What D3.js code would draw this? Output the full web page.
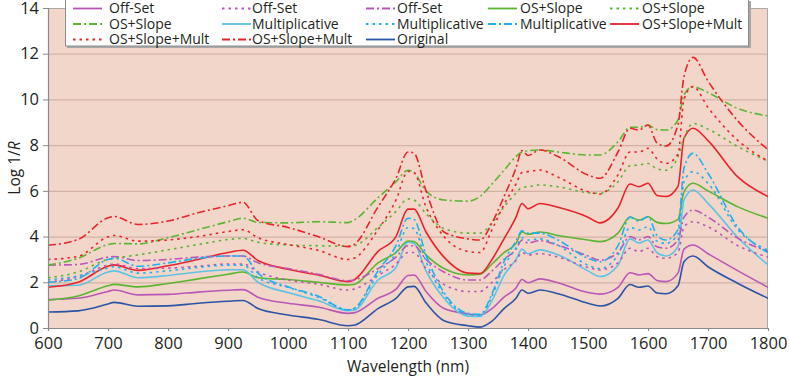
<!DOCTYPE html>
<html><head><meta charset="utf-8">
<script src="https://cdn.jsdelivr.net/npm/d3@7"></script>
<style>body{margin:0;background:#fff;} text{font-family:"Open Sans",sans-serif;}</style>
</head><body><svg id="c" width="790" height="378"></svg>
<script>
const wavelengths = [600,650,700,710,750,800,850,900,925,950,1000,1050,1100,1110,1150,1180,1200,1210,1230,1260,1300,1320,1340,1360,1380,1390,1400,1420,1450,1500,1520,1550,1570,1585,1600,1615,1630,1650,1660,1675,1700,1750,1800];
const xTicks = [600,700,800,900,1000,1100,1200,1300,1400,1500,1600,1700,1800];
const yTicks = [0,2,4,6,8,10,12,14];

const original      = [0.70,0.75,1.05,1.12,0.95,0.97,1.08,1.17,1.20,0.85,0.57,0.38,0.10,0.12,0.85,1.30,1.80,1.82,1.10,0.32,0.10,0.04,0.30,0.85,1.30,1.66,1.52,1.66,1.50,1.08,0.96,1.30,1.90,1.78,1.84,1.53,1.50,1.85,2.90,3.15,2.68,1.95,1.30];
const offSetSolid   = [1.25,1.30,1.60,1.66,1.45,1.47,1.57,1.65,1.68,1.35,1.08,0.92,0.64,0.66,1.30,1.70,2.30,2.32,1.60,0.85,0.62,0.57,0.85,1.35,1.75,2.12,1.98,2.15,1.98,1.55,1.48,1.78,2.42,2.32,2.38,2.08,2.03,2.40,3.45,3.63,3.25,2.50,1.78];
const offSetDot     = [2.00,2.25,2.75,2.80,2.60,2.62,2.70,2.80,2.80,2.45,2.10,1.92,1.66,1.70,2.30,2.80,3.30,3.30,2.60,1.90,1.60,1.60,2.00,2.55,2.95,3.30,3.20,3.25,3.10,2.65,2.54,2.85,3.49,3.34,3.49,3.12,3.05,3.30,4.43,4.65,4.43,3.60,3.10];
const offSetDashDot = [2.75,2.78,3.10,3.13,2.95,3.00,3.10,3.15,3.15,2.85,2.60,2.35,2.07,2.10,2.60,3.10,3.60,3.60,3.00,2.45,2.10,2.10,2.50,3.00,3.45,3.85,3.72,3.82,3.62,3.15,2.97,3.30,4.00,3.85,4.00,3.55,3.49,3.85,4.85,5.16,4.85,3.92,3.35];
const osSlopeSolid  = [1.22,1.40,1.85,1.91,1.80,1.95,2.15,2.35,2.45,2.20,2.12,2.00,1.88,1.90,2.85,3.30,3.80,3.78,3.20,2.60,2.32,2.35,2.80,3.30,3.70,4.20,4.10,4.20,4.05,3.85,3.78,4.15,4.85,4.72,4.87,4.62,4.57,4.75,5.95,6.33,6.00,5.30,4.80];
const osSlopeDot    = [2.20,2.45,3.00,3.05,3.20,3.42,3.65,3.87,3.92,3.75,3.63,3.60,3.58,3.60,4.40,5.10,5.65,5.60,5.00,4.35,4.15,4.15,4.60,5.30,5.90,6.15,6.18,6.26,6.18,5.92,5.89,6.40,7.10,7.13,7.20,6.96,6.90,7.50,8.30,8.95,8.70,7.93,7.30];
const osSlopeDashDot= [2.75,3.05,3.65,3.70,3.68,3.95,4.30,4.65,4.80,4.62,4.60,4.65,4.61,4.72,5.70,6.40,6.90,6.80,6.00,5.60,5.55,5.75,6.30,6.90,7.50,7.70,7.75,7.79,7.70,7.57,7.57,8.15,8.78,8.78,8.88,8.68,8.66,9.10,10.20,10.56,10.30,9.60,9.28];
const multSolid     = [1.85,1.87,2.45,2.50,2.20,2.30,2.45,2.55,2.55,2.00,1.55,1.20,0.76,0.78,2.10,2.65,3.75,3.70,2.50,1.30,0.52,0.50,1.20,2.30,3.00,3.45,3.25,3.42,3.20,2.50,2.25,2.75,3.90,3.72,3.85,3.30,3.15,3.55,5.60,6.04,5.45,3.95,2.76];
const multDot       = [2.10,2.28,2.62,2.68,2.40,2.50,2.65,2.75,2.75,2.20,1.78,1.35,0.80,0.85,2.35,3.30,4.40,4.35,2.90,1.45,0.58,0.55,1.40,2.70,3.50,3.95,3.85,3.90,3.62,2.75,2.60,3.20,4.40,4.29,4.43,3.80,3.70,4.10,6.40,6.84,6.33,4.30,3.40];
const multDashDot   = [2.00,2.16,3.00,3.05,2.70,2.85,3.05,3.15,3.15,2.40,1.80,1.40,0.79,0.85,2.50,3.60,4.80,4.75,3.20,1.55,0.64,0.60,1.50,2.90,3.80,4.25,4.15,4.15,3.85,3.05,2.90,3.60,4.85,4.68,4.87,4.05,3.85,4.30,7.00,7.64,6.77,4.40,3.30];
const osSlopeMultSolid  = [1.78,2.00,2.70,2.76,2.52,2.72,3.00,3.30,3.40,2.95,2.57,2.32,2.03,2.10,3.35,4.00,5.20,5.20,4.20,3.10,2.40,2.38,3.00,3.90,4.85,5.45,5.22,5.45,5.28,4.85,4.60,5.25,6.30,6.18,6.33,5.80,5.75,6.20,8.30,8.74,8.20,6.60,5.75];
const osSlopeMultDot    = [3.00,3.13,3.99,4.05,3.80,3.85,4.00,4.22,4.30,3.95,3.65,3.40,3.00,3.05,4.30,5.60,6.85,6.80,5.30,4.00,3.35,3.30,4.30,5.40,6.30,6.80,6.84,6.91,6.60,5.96,5.86,6.70,7.70,7.70,7.86,7.40,7.20,7.60,10.00,10.56,9.65,8.20,7.30];
const osSlopeMultDashDot= [3.62,3.87,4.82,4.88,4.53,4.68,5.04,5.35,5.50,4.70,4.40,4.00,3.56,3.65,5.30,6.55,7.70,7.65,6.00,4.20,3.90,3.85,4.60,5.75,7.00,7.76,7.55,7.79,7.50,6.69,6.55,7.70,8.74,8.66,8.88,8.10,7.96,8.90,11.00,11.84,10.80,9.05,7.80];

const seriesLabels = ["Off-Set","Off-Set","Off-Set","OS+Slope","OS+Slope","OS+Slope","Multiplicative","Multiplicative","Multiplicative","OS+Slope+Mult","OS+Slope+Mult","OS+Slope+Mult","Original"];
const seriesValues = [offSetSolid,offSetDot,offSetDashDot,osSlopeSolid,osSlopeDot,osSlopeDashDot,multSolid,multDot,multDashDot,osSlopeMultSolid,osSlopeMultDot,osSlopeMultDashDot,original];

const PURPLE="#b957b6", GREEN="#5cb531", LBLUE="#5cc3e4", CYAN="#1fb0ee", RED="#e8232b", NAVY="#2b54a6";
const colors = [PURPLE,PURPLE,PURPLE,GREEN,GREEN,GREEN,LBLUE,CYAN,CYAN,RED,RED,RED,NAVY];
const SOLID=null, DOT="2.5,4", DASHDOT="8,3,2,3";
const dashes = [SOLID,DOT,DASHDOT,SOLID,DOT,DASHDOT,SOLID,DOT,DASHDOT,SOLID,DOT,DASHDOT,SOLID];

const svg = d3.select("#c");
const x = d3.scaleLinear().domain([600,1800]).range([48,768]);
const y = d3.scaleLinear().domain([0,14]).range([328,8]);

// plot background
svg.append("rect").attr("x",48).attr("y",8).attr("width",720).attr("height",320).attr("fill","#f3d6ca");
// gridlines
svg.append("g").selectAll("line").data(yTicks.filter(v=>v>0&&v<14)).join("line")
  .attr("x1",48).attr("x2",768).attr("y1",d=>y(d)+0.5).attr("y2",d=>y(d)+0.5)
  .attr("stroke","#d4b1a5").attr("stroke-width",1.3);
// frame top/right
svg.append("path").attr("d",`M48,${8.5}H767.5V328`).attr("fill","none").attr("stroke","#a9a9a9").attr("stroke-width",1);

// lines
svg.append("defs").append("clipPath").attr("id","clip").append("rect").attr("x",48).attr("y",8).attr("width",720).attr("height",320);
const line = d3.line().x((d,i)=>x(wavelengths[i])).y(d=>y(d)).curve(d3.curveMonotoneX);
const order = [12,0,3,6,9,1,2,4,5,7,8,10,11];
const gl = svg.append("g").attr("clip-path","url(#clip)");
order.forEach(i=>{
  gl.append("path").datum(seriesValues[i]).attr("d",line)
    .attr("fill","none").attr("stroke",colors[i]).attr("stroke-width",1.6)
    .attr("stroke-dasharray",dashes[i]).attr("stroke-linejoin","round");
});

// axes
const ax = svg.append("g").attr("transform","translate(0,328)")
  .call(d3.axisBottom(x).tickValues(xTicks).tickFormat(d3.format("d")).tickSize(3).tickPadding(6));
const ay = svg.append("g").attr("transform","translate(48,0)")
  .call(d3.axisLeft(y).tickValues(yTicks).tickSize(5).tickPadding(4));
[ax,ay].forEach(g=>{
  g.select(".domain").attr("stroke","#8a8a8a").attr("stroke-width",1.2);
  g.selectAll(".tick line").attr("stroke","#8a8a8a");
  g.selectAll(".tick text").attr("font-size","16.5px").attr("fill","#231f20").attr("font-family","'Open Sans',sans-serif");
});

// axis titles
svg.append("text").attr("x",408).attr("y",372).attr("text-anchor","middle")
  .attr("font-size","15.5px").attr("fill","#231f20").text("Wavelength (nm)");
const yt = svg.append("text").attr("transform","translate(20,168) rotate(-90)").attr("text-anchor","middle")
  .attr("font-size","15.5px").attr("fill","#231f20");
yt.append("tspan").text("Log 1/");
yt.append("tspan").attr("font-style","italic").text("R");

// legend
const lg = svg.append("g");
lg.append("rect").attr("x",67).attr("y",1).attr("width",684).attr("height",47).attr("fill","#a8a8a8");
lg.append("rect").attr("x",65.5).attr("y",-0.5).attr("width",683).attr("height",46.5).attr("fill","#fff").attr("stroke","#8c8c8c");
const colLine = [73,222,366,488,610], colText = [109,252,397,520,642];
const rowY = [8.5,24,39.5];
seriesLabels.forEach((lab,i)=>{
  const c = i%5, r = Math.floor(i/5);
  lg.append("line").attr("x1",colLine[c]).attr("x2",colLine[c]+29).attr("y1",rowY[r]).attr("y2",rowY[r])
    .attr("stroke",colors[i]).attr("stroke-width",1.8).attr("stroke-dasharray",dashes[i]);
  lg.append("text").attr("x",colText[c]).attr("y",rowY[r]).attr("dy","0.35em")
    .attr("font-size","14px").attr("fill","#231f20").text(lab);
});
</script></body></html>
